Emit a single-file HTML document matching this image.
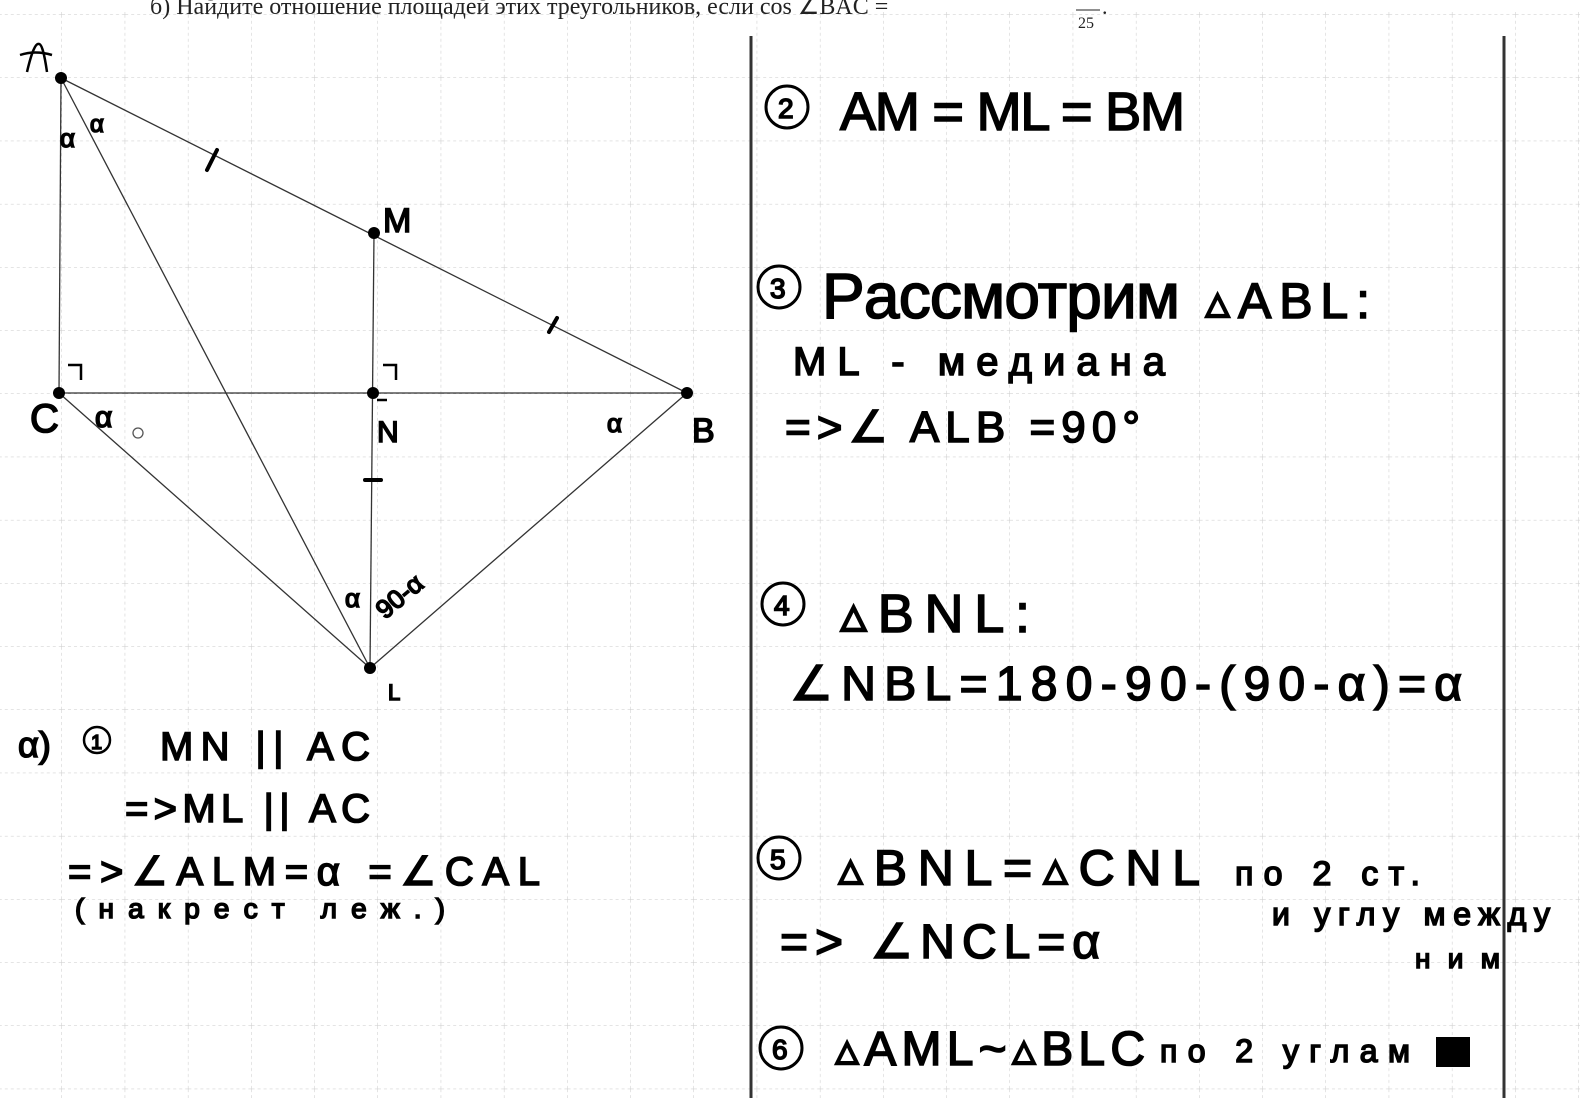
<!DOCTYPE html>
<html><head><meta charset="utf-8"><style>
html,body{margin:0;padding:0;background:#fff;width:1580px;height:1098px;overflow:hidden}
svg{display:block}
.h{font-family:"Liberation Sans","DejaVu Sans",sans-serif;fill:#000;stroke:#000;stroke-width:1.6}
</style></head><body>
<svg width="1580" height="1098" viewBox="0 0 1580 1098" xmlns="http://www.w3.org/2000/svg">
<defs>
<pattern id="g" x="-1.2" y="14.8" width="63.2" height="63.2" patternUnits="userSpaceOnUse">
<path d="M63.2 0V63.2M0 63.2H63.2" stroke="#c8c8c8" stroke-width="1" stroke-dasharray="3 3" fill="none"/>
</pattern>
</defs>
<rect width="1580" height="1098" fill="#fff"/>
<rect x="0" y="0" width="1580" height="1098" fill="url(#g)"/>
<rect x="0" y="0" width="1580" height="12" fill="#fff"/>
<text x="150" y="14" font-family="Liberation Serif,serif" font-size="24" fill="#222">б) Найдите отношение площадей этих треугольников, если cos ∠BAC = </text>
<line x1="1076" y1="10" x2="1100" y2="10" stroke="#222" stroke-width="1"/>
<text x="1078" y="28" font-family="Liberation Serif,serif" font-size="16" fill="#222">25</text>
<text x="1102" y="14" font-family="Liberation Serif,serif" font-size="22" fill="#222">.</text>
<line x1="751" y1="36" x2="751" y2="1098" stroke="#333" stroke-width="3"/>
<line x1="1504" y1="36" x2="1504" y2="1098" stroke="#333" stroke-width="3"/>
<g stroke="#333" stroke-width="1.3" fill="none">
<line x1="61" y1="78" x2="59" y2="393"/>
<line x1="61" y1="78" x2="687" y2="393"/>
<line x1="61" y1="78" x2="370" y2="668"/>
<line x1="374" y1="233" x2="370" y2="668"/>
<line x1="59" y1="393" x2="687" y2="393"/>
<line x1="59" y1="393" x2="370" y2="668"/>
<line x1="687" y1="393" x2="370" y2="668"/>
</g>
<g stroke="#000" stroke-width="4" stroke-linecap="round" fill="none">
<line x1="207" y1="170" x2="217" y2="150"/>
<line x1="549" y1="332" x2="557" y2="318"/>
<line x1="365" y1="480" x2="381" y2="480"/>
</g>
<g stroke="#000" stroke-width="2.5" fill="none">
<path d="M68 365h13v15"/><path d="M383 365h13v15"/><path d="M377 400h10"/>
<path d="M20 55q15-5 32 0"/><path d="M27 72q7-30 12-28q4 0 8 28"/>
</g>
<g fill="#000">
<circle cx="61" cy="78" r="6"/><circle cx="374" cy="233" r="6"/><circle cx="59" cy="393" r="6"/>
<circle cx="373" cy="393" r="6"/><circle cx="687" cy="393" r="6"/><circle cx="370" cy="668" r="6"/>
</g>
<circle cx="138" cy="433" r="5" fill="none" stroke="#555" stroke-width="1.3"/>
<g class="h">
<text x="383" y="232" font-size="34">M</text>
<text x="30" y="432" font-size="40">C</text>
<text x="95" y="427" font-size="30">α</text>
<text x="377" y="442" font-size="30">N</text>
<text x="607" y="432" font-size="26">α</text>
<text x="692" y="442" font-size="34">B</text>
<text x="60" y="147" font-size="26">α</text>
<text x="90" y="132" font-size="24">α</text>
<text x="345" y="607" font-size="26">α</text>
<text x="385" y="620" font-size="26" transform="rotate(-40 385 620)">90-α</text>
<text x="388" y="700" font-size="22">L</text>
<text x="18" y="757" font-size="36">α)</text>
<circle cx="97" cy="740" r="13" fill="none" stroke-width="2.5"/>
<text x="91" y="749" font-size="20">1</text>
<text x="160" y="760" font-size="40" textLength="210" lengthAdjust="spacing">MN || AC</text>
<text x="125" y="822" font-size="40" textLength="245" lengthAdjust="spacing">=&gt;ML || AC</text>
<text x="68" y="885" font-size="40" textLength="472" lengthAdjust="spacing">=&gt;∠ALM=α =∠CAL</text>
<text x="75" y="918" font-size="28" textLength="370" lengthAdjust="spacing">(накрест лeж.)</text>

<circle cx="787" cy="107" r="21" fill="none" stroke-width="3"/>
<text x="778" y="118" font-size="28">2</text>
<text x="840" y="130" font-size="54" textLength="345" lengthAdjust="spacing">AM = ML = BM</text>
<circle cx="779" cy="287" r="21" fill="none" stroke-width="3"/>
<text x="770" y="298" font-size="28">3</text>
<text x="822" y="318" font-size="64" textLength="358" lengthAdjust="spacing">Pacсмотрим</text>
<text x="1205" y="318" font-size="50" textLength="165" lengthAdjust="spacing">▵ABL:</text>
<text x="793" y="375" font-size="40" textLength="372" lengthAdjust="spacing">ML - медиана</text>
<text x="785" y="442" font-size="44" textLength="355" lengthAdjust="spacing">=&gt;∠ ALB =90°</text>
<circle cx="783" cy="604" r="21" fill="none" stroke-width="3"/>
<text x="774" y="615" font-size="28">4</text>
<text x="840" y="632" font-size="54" textLength="190" lengthAdjust="spacing">▵BNL:</text>
<text x="790" y="700" font-size="48" textLength="672" lengthAdjust="spacing">∠NBL=180-90-(90-α)=α</text>
<circle cx="779" cy="858" r="21" fill="none" stroke-width="3"/>
<text x="770" y="869" font-size="28">5</text>
<text x="838" y="885" font-size="50" textLength="362" lengthAdjust="spacing">▵BNL=▵CNL</text>
<text x="1235" y="885" font-size="34" textLength="185" lengthAdjust="spacing">по 2 ст.</text>
<text x="1272" y="925" font-size="32" textLength="278" lengthAdjust="spacing">и углу между</text>
<text x="1415" y="968" font-size="28" textLength="85" lengthAdjust="spacing">ним</text>
<text x="780" y="958" font-size="48" textLength="320" lengthAdjust="spacing">=&gt; ∠NCL=α</text>
<circle cx="781" cy="1048" r="21" fill="none" stroke-width="3"/>
<text x="772" y="1059" font-size="28">6</text>
<text x="835" y="1065" font-size="48" textLength="310" lengthAdjust="spacing">▵AML~▵BLC</text>
<text x="1160" y="1062" font-size="32" textLength="250" lengthAdjust="spacing">по 2 углам</text>
</g>
<rect x="1436" y="1037" width="34" height="30" fill="#000"/>
</svg>
</body></html>
